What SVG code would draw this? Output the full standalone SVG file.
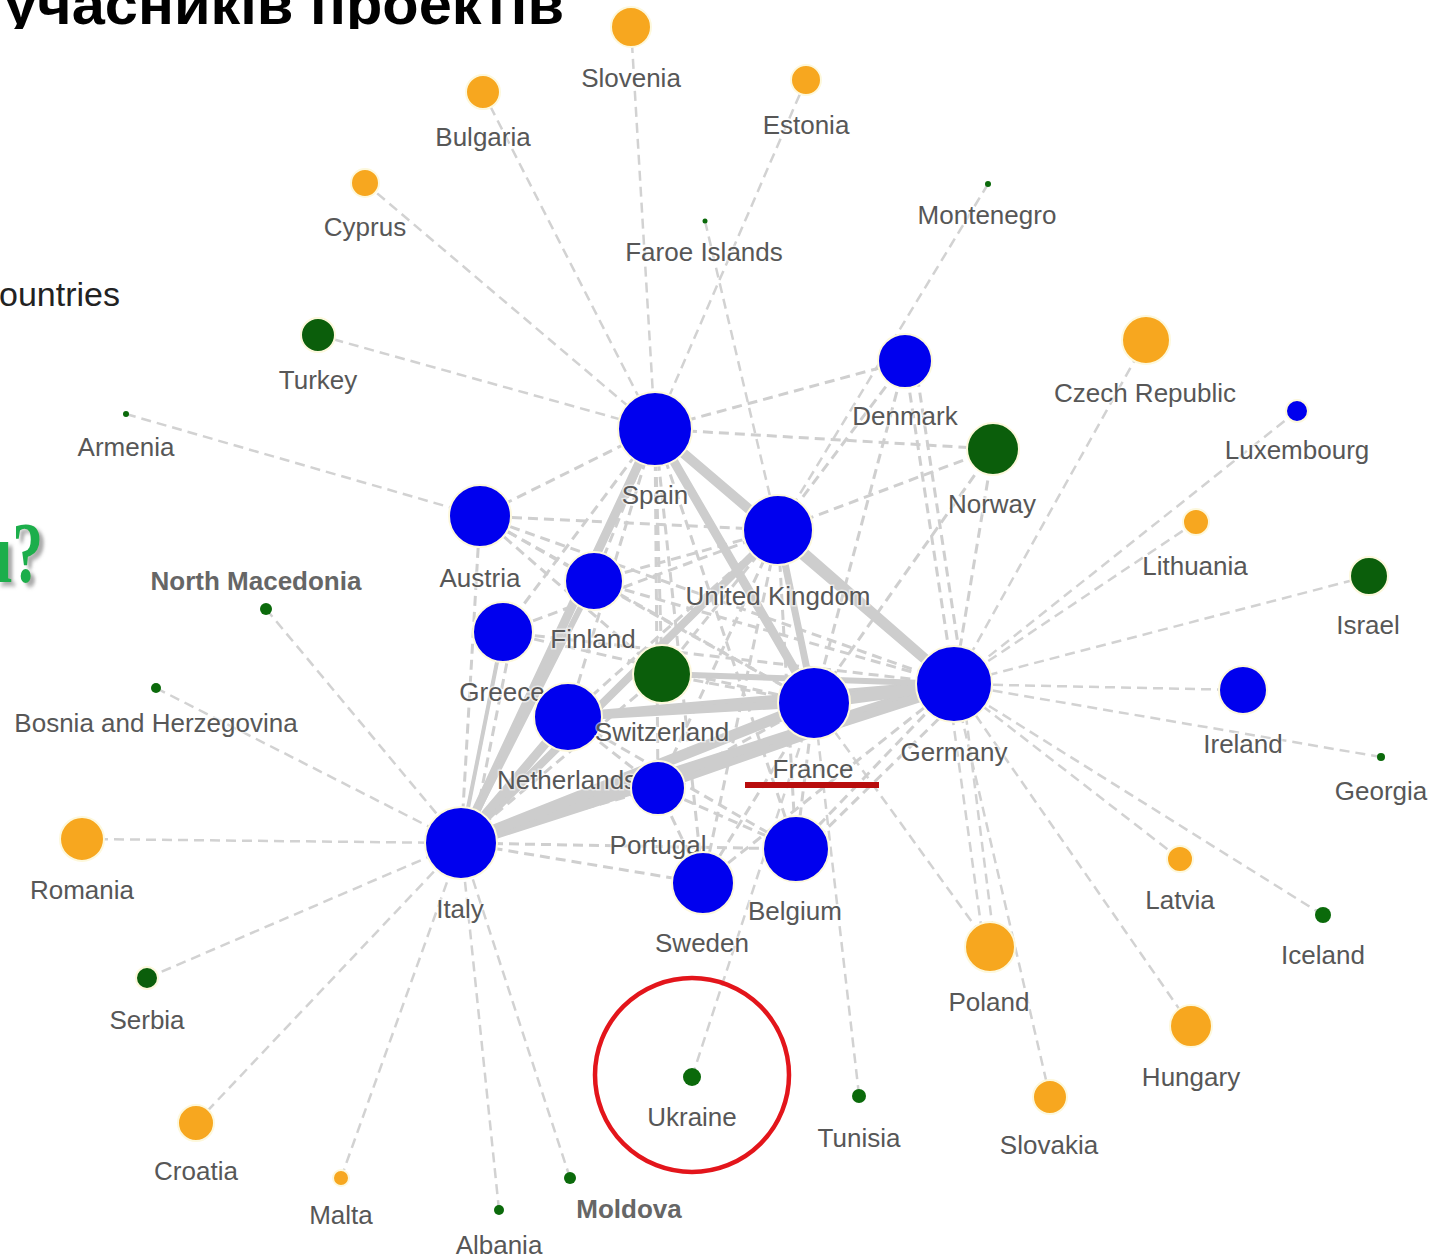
<svg xmlns="http://www.w3.org/2000/svg" width="1450" height="1259" viewBox="0 0 1450 1259">
<style>
.lbl{font-family:"Liberation Sans",Arial,sans-serif;font-size:26px;fill:#575757;text-anchor:middle;paint-order:stroke;stroke:#fff;stroke-width:3px;stroke-opacity:0.55}
.lblb{font-weight:bold;fill:#666}
.blue{fill:#0000ee;stroke:#fdf8dc;stroke-width:2}
.dg{fill:#0b5e0b;stroke:#fdf8dc;stroke-width:2}
.or{fill:#f7a71f;stroke:#fdf8dc;stroke-width:2}
.sg{fill:#0b6a0b}
.p line,.d line{stroke:#d2d2d2;stroke-width:2.5;stroke-dasharray:10 6;fill:none}
.d line{stroke:#cfcfcf;stroke-width:3}
.t line{stroke:#cdcdcd;fill:none;stroke-linecap:round}
</style>
<defs>
<clipPath id="titleclip"><rect x="0" y="0" width="600" height="29"/></clipPath>
<filter id="shadow" x="-20%" y="-20%" width="160%" height="160%"><feDropShadow dx="6" dy="4" stdDeviation="2" flood-color="#888" flood-opacity="0.7"/></filter>
</defs>
<rect width="1450" height="1259" fill="#fff"/>
<g id="title" clip-path="url(#titleclip)">
<text x="4" y="24" font-family="'Liberation Sans',Arial,sans-serif" font-size="58" font-weight="bold" fill="#000" textLength="560" lengthAdjust="spacingAndGlyphs">учасників проектів</text>
</g>
<text id="countries" x="-1" y="306" font-family="'Liberation Sans',Arial,sans-serif" font-size="34" fill="#222">ountries</text>
<g id="question">
<text transform="translate(0,582) scale(0.72,1)" x="-7" y="0" font-family="'Liberation Serif',serif" font-size="86" font-weight="bold" fill="#1fae4b" filter="url(#shadow)">ı?</text>
</g>
<g id="connectors">
<g class="p">
<line x1="631" y1="27" x2="655" y2="429"/>
<line x1="483" y1="92" x2="655" y2="429"/>
<line x1="806" y1="80" x2="655" y2="429"/>
<line x1="365" y1="183" x2="655" y2="429"/>
<line x1="318" y1="335" x2="655" y2="429"/>
<line x1="705" y1="221" x2="778" y2="530"/>
<line x1="988" y1="184" x2="778" y2="530"/>
<line x1="126" y1="414" x2="480" y2="516"/>
<line x1="1146" y1="340" x2="954" y2="684"/>
<line x1="1297" y1="411" x2="954" y2="684"/>
<line x1="1196" y1="522" x2="954" y2="684"/>
<line x1="1369" y1="576" x2="954" y2="684"/>
<line x1="1243" y1="690" x2="954" y2="684"/>
<line x1="1381" y1="757" x2="954" y2="684"/>
<line x1="1180" y1="859" x2="954" y2="684"/>
<line x1="1323" y1="915" x2="954" y2="684"/>
<line x1="1191" y1="1026" x2="954" y2="684"/>
<line x1="1050" y1="1097" x2="954" y2="684"/>
<line x1="984" y1="947" x2="948" y2="684"/>
<line x1="995" y1="947" x2="962" y2="684"/>
<line x1="990" y1="947" x2="814" y2="703"/>
<line x1="859" y1="1095" x2="814" y2="703"/>
<line x1="692" y1="1077" x2="814" y2="703"/>
<line x1="570" y1="1178" x2="461" y2="843"/>
<line x1="499" y1="1210" x2="461" y2="843"/>
<line x1="341" y1="1178" x2="461" y2="843"/>
<line x1="196" y1="1123" x2="461" y2="843"/>
<line x1="147" y1="978" x2="461" y2="843"/>
<line x1="82" y1="839" x2="461" y2="843"/>
<line x1="156" y1="688" x2="461" y2="843"/>
<line x1="266" y1="609" x2="461" y2="843"/>
</g>
<g class="d">
<line x1="655" y1="429" x2="905" y2="361"/>
<line x1="655" y1="429" x2="993" y2="449"/>
<line x1="655" y1="429" x2="480" y2="516"/>
<line x1="655" y1="429" x2="503" y2="632"/>
<line x1="655" y1="429" x2="594" y2="581"/>
<line x1="655" y1="429" x2="662" y2="674"/>
<line x1="655" y1="429" x2="658" y2="788"/>
<line x1="655" y1="429" x2="703" y2="883"/>
<line x1="655" y1="429" x2="796" y2="849"/>
<line x1="655" y1="429" x2="568" y2="717"/>
<line x1="905" y1="361" x2="954" y2="684"/>
<line x1="915" y1="361" x2="964" y2="684"/>
<line x1="905" y1="361" x2="814" y2="703"/>
<line x1="905" y1="361" x2="778" y2="530"/>
<line x1="993" y1="449" x2="954" y2="684"/>
<line x1="993" y1="449" x2="814" y2="703"/>
<line x1="993" y1="449" x2="778" y2="530"/>
<line x1="480" y1="516" x2="461" y2="843"/>
<line x1="480" y1="516" x2="954" y2="684"/>
<line x1="480" y1="516" x2="814" y2="703"/>
<line x1="480" y1="516" x2="778" y2="530"/>
<line x1="480" y1="516" x2="594" y2="581"/>
<line x1="480" y1="516" x2="662" y2="674"/>
<line x1="503" y1="632" x2="461" y2="843"/>
<line x1="513" y1="632" x2="471" y2="843"/>
<line x1="503" y1="632" x2="954" y2="684"/>
<line x1="503" y1="632" x2="814" y2="703"/>
<line x1="503" y1="632" x2="778" y2="530"/>
<line x1="594" y1="581" x2="954" y2="684"/>
<line x1="594" y1="581" x2="814" y2="703"/>
<line x1="594" y1="581" x2="778" y2="530"/>
<line x1="662" y1="674" x2="814" y2="703"/>
<line x1="662" y1="674" x2="461" y2="843"/>
<line x1="662" y1="674" x2="778" y2="530"/>
<line x1="778" y1="530" x2="796" y2="849"/>
<line x1="778" y1="530" x2="703" y2="883"/>
<line x1="778" y1="530" x2="658" y2="788"/>
<line x1="778" y1="530" x2="568" y2="717"/>
<line x1="461" y1="843" x2="658" y2="788"/>
<line x1="461" y1="843" x2="703" y2="883"/>
<line x1="461" y1="843" x2="796" y2="849"/>
<line x1="796" y1="849" x2="954" y2="684"/>
<line x1="806" y1="849" x2="964" y2="694"/>
<line x1="796" y1="849" x2="814" y2="703"/>
<line x1="796" y1="849" x2="568" y2="717"/>
<line x1="796" y1="849" x2="658" y2="788"/>
<line x1="703" y1="883" x2="954" y2="684"/>
<line x1="703" y1="883" x2="814" y2="703"/>
<line x1="703" y1="883" x2="658" y2="788"/>
<line x1="658" y1="788" x2="814" y2="703"/>
<line x1="658" y1="788" x2="568" y2="717"/>
</g>
<g class="t">
<line x1="655" y1="429" x2="461" y2="843" stroke-width="9"/>
<line x1="655" y1="429" x2="814" y2="703" stroke-width="9"/>
<line x1="655" y1="429" x2="954" y2="684" stroke-width="10"/>
<line x1="778" y1="530" x2="954" y2="684" stroke-width="10"/>
<line x1="778" y1="530" x2="461" y2="843" stroke-width="8"/>
<line x1="778" y1="530" x2="814" y2="703" stroke-width="7"/>
<line x1="461" y1="843" x2="954" y2="684" stroke-width="14"/>
<line x1="461" y1="843" x2="814" y2="703" stroke-width="11"/>
<line x1="461" y1="843" x2="568" y2="717" stroke-width="9"/>
<line x1="568" y1="717" x2="954" y2="684" stroke-width="9"/>
<line x1="568" y1="717" x2="814" y2="703" stroke-width="8"/>
<line x1="814" y1="703" x2="954" y2="684" stroke-width="12"/>
<line x1="658" y1="788" x2="954" y2="684" stroke-width="7"/>
<line x1="594" y1="581" x2="461" y2="843" stroke-width="6"/>
<line x1="662" y1="674" x2="954" y2="684" stroke-width="6"/>
<line x1="503" y1="632" x2="461" y2="843" stroke-width="4"/>
</g>
</g>
<g id="node-slovenia"><circle class="or" cx="631" cy="27" r="20"/><text class="lbl" x="631" y="87">Slovenia</text></g>
<g id="node-bulgaria"><circle class="or" cx="483" cy="92" r="17"/><text class="lbl" x="483" y="146">Bulgaria</text></g>
<g id="node-estonia"><circle class="or" cx="806" cy="80" r="15"/><text class="lbl" x="806" y="134">Estonia</text></g>
<g id="node-cyprus"><circle class="or" cx="365" cy="183" r="14"/><text class="lbl" x="365" y="236">Cyprus</text></g>
<g id="node-faroe"><circle class="sg" cx="705" cy="221" r="2.5"/><text class="lbl" x="704" y="261">Faroe Islands</text></g>
<g id="node-montenegro"><circle class="sg" cx="988" cy="184" r="3"/><text class="lbl" x="987" y="224">Montenegro</text></g>
<g id="node-turkey"><circle class="dg" cx="318" cy="335" r="17"/><text class="lbl" x="318" y="389">Turkey</text></g>
<g id="node-armenia"><circle class="sg" cx="126" cy="414" r="3"/><text class="lbl" x="126" y="456">Armenia</text></g>
<g id="node-denmark"><circle class="blue" cx="905" cy="361" r="27"/><text class="lbl" x="905" y="425">Denmark</text></g>
<g id="node-czech"><circle class="or" cx="1146" cy="340" r="24"/><text class="lbl" x="1145" y="402">Czech Republic</text></g>
<g id="node-luxembourg"><circle class="blue" cx="1297" cy="411" r="11"/><text class="lbl" x="1297" y="459">Luxembourg</text></g>
<g id="node-spain"><circle class="blue" cx="655" cy="429" r="37"/><text class="lbl" x="655" y="504">Spain</text></g>
<g id="node-norway"><circle class="dg" cx="993" cy="449" r="26"/><text class="lbl" x="992" y="513">Norway</text></g>
<g id="node-austria"><circle class="blue" cx="480" cy="516" r="31"/><text class="lbl" x="480" y="587">Austria</text></g>
<g id="node-uk"><circle class="blue" cx="778" cy="530" r="35"/><text class="lbl" x="778" y="605">United Kingdom</text></g>
<g id="node-lithuania"><circle class="or" cx="1196" cy="522" r="13"/><text class="lbl" x="1195" y="575">Lithuania</text></g>
<g id="node-israel"><circle class="dg" cx="1369" cy="576" r="19"/><text class="lbl" x="1368" y="634">Israel</text></g>
<g id="node-northmacedonia"><circle class="sg" cx="266" cy="609" r="6"/><text class="lbl lblb" x="256" y="590">North Macedonia</text></g>
<g id="node-finland"><circle class="blue" cx="594" cy="581" r="29"/><text class="lbl" x="593" y="648">Finland</text></g>
<g id="node-greece"><circle class="blue" cx="503" cy="632" r="30"/><text class="lbl" x="502" y="701">Greece</text></g>
<g id="node-netherlands"><circle class="blue" cx="568" cy="717" r="34"/><text class="lbl" x="567" y="789">Netherlands</text></g>
<g id="node-switzerland"><circle class="dg" cx="662" cy="674" r="29"/><text class="lbl" x="662" y="741">Switzerland</text></g>
<g id="node-germany"><circle class="blue" cx="954" cy="684" r="38"/><text class="lbl" x="954" y="761">Germany</text></g>
<g id="node-france"><circle class="blue" cx="814" cy="703" r="36"/><text class="lbl" x="813" y="778">France</text></g>
<g id="node-ireland"><circle class="blue" cx="1243" cy="690" r="24"/><text class="lbl" x="1243" y="753">Ireland</text></g>
<g id="node-bosnia"><circle class="sg" cx="156" cy="688" r="5"/><text class="lbl" x="156" y="732">Bosnia and Herzegovina</text></g>
<g id="node-georgia"><circle class="sg" cx="1381" cy="757" r="4"/><text class="lbl" x="1381" y="800">Georgia</text></g>
<g id="node-portugal"><circle class="blue" cx="658" cy="788" r="27"/><text class="lbl" x="658" y="854">Portugal</text></g>
<g id="node-italy"><circle class="blue" cx="461" cy="843" r="36"/><text class="lbl" x="460" y="918">Italy</text></g>
<g id="node-romania"><circle class="or" cx="82" cy="839" r="22"/><text class="lbl" x="82" y="899">Romania</text></g>
<g id="node-belgium"><circle class="blue" cx="796" cy="849" r="33"/><text class="lbl" x="795" y="920">Belgium</text></g>
<g id="node-sweden"><circle class="blue" cx="703" cy="883" r="31"/><text class="lbl" x="702" y="952">Sweden</text></g>
<g id="node-latvia"><circle class="or" cx="1180" cy="859" r="13"/><text class="lbl" x="1180" y="909">Latvia</text></g>
<g id="node-iceland"><circle class="sg" cx="1323" cy="915" r="8"/><text class="lbl" x="1323" y="964">Iceland</text></g>
<g id="node-poland"><circle class="or" cx="990" cy="947" r="25"/><text class="lbl" x="989" y="1011">Poland</text></g>
<g id="node-serbia"><circle class="dg" cx="147" cy="978" r="11"/><text class="lbl" x="147" y="1029">Serbia</text></g>
<g id="node-hungary"><circle class="or" cx="1191" cy="1026" r="21"/><text class="lbl" x="1191" y="1086">Hungary</text></g>
<g id="node-ukraine"><circle class="sg" cx="692" cy="1077" r="9"/><text class="lbl" x="692" y="1126">Ukraine</text></g>
<g id="node-tunisia"><circle class="sg" cx="859" cy="1096" r="7"/><text class="lbl" x="859" y="1147">Tunisia</text></g>
<g id="node-croatia"><circle class="or" cx="196" cy="1123" r="18"/><text class="lbl" x="196" y="1180">Croatia</text></g>
<g id="node-slovakia"><circle class="or" cx="1050" cy="1097" r="17"/><text class="lbl" x="1049" y="1154">Slovakia</text></g>
<g id="node-malta"><circle class="or" cx="341" cy="1178" r="8"/><text class="lbl" x="341" y="1224">Malta</text></g>
<g id="node-moldova"><circle class="sg" cx="570" cy="1178" r="6"/><text class="lbl lblb" x="629" y="1218">Moldova</text></g>
<g id="node-albania"><circle class="sg" cx="499" cy="1210" r="5"/><text class="lbl" x="499" y="1254">Albania</text></g>
<g id="highlights">
<circle cx="692" cy="1075" r="97" fill="none" stroke="#e3151b" stroke-width="4.5"/>
<line x1="745" y1="785" x2="879" y2="785" stroke="#b80d0d" stroke-width="6"/>
</g>
</svg>
